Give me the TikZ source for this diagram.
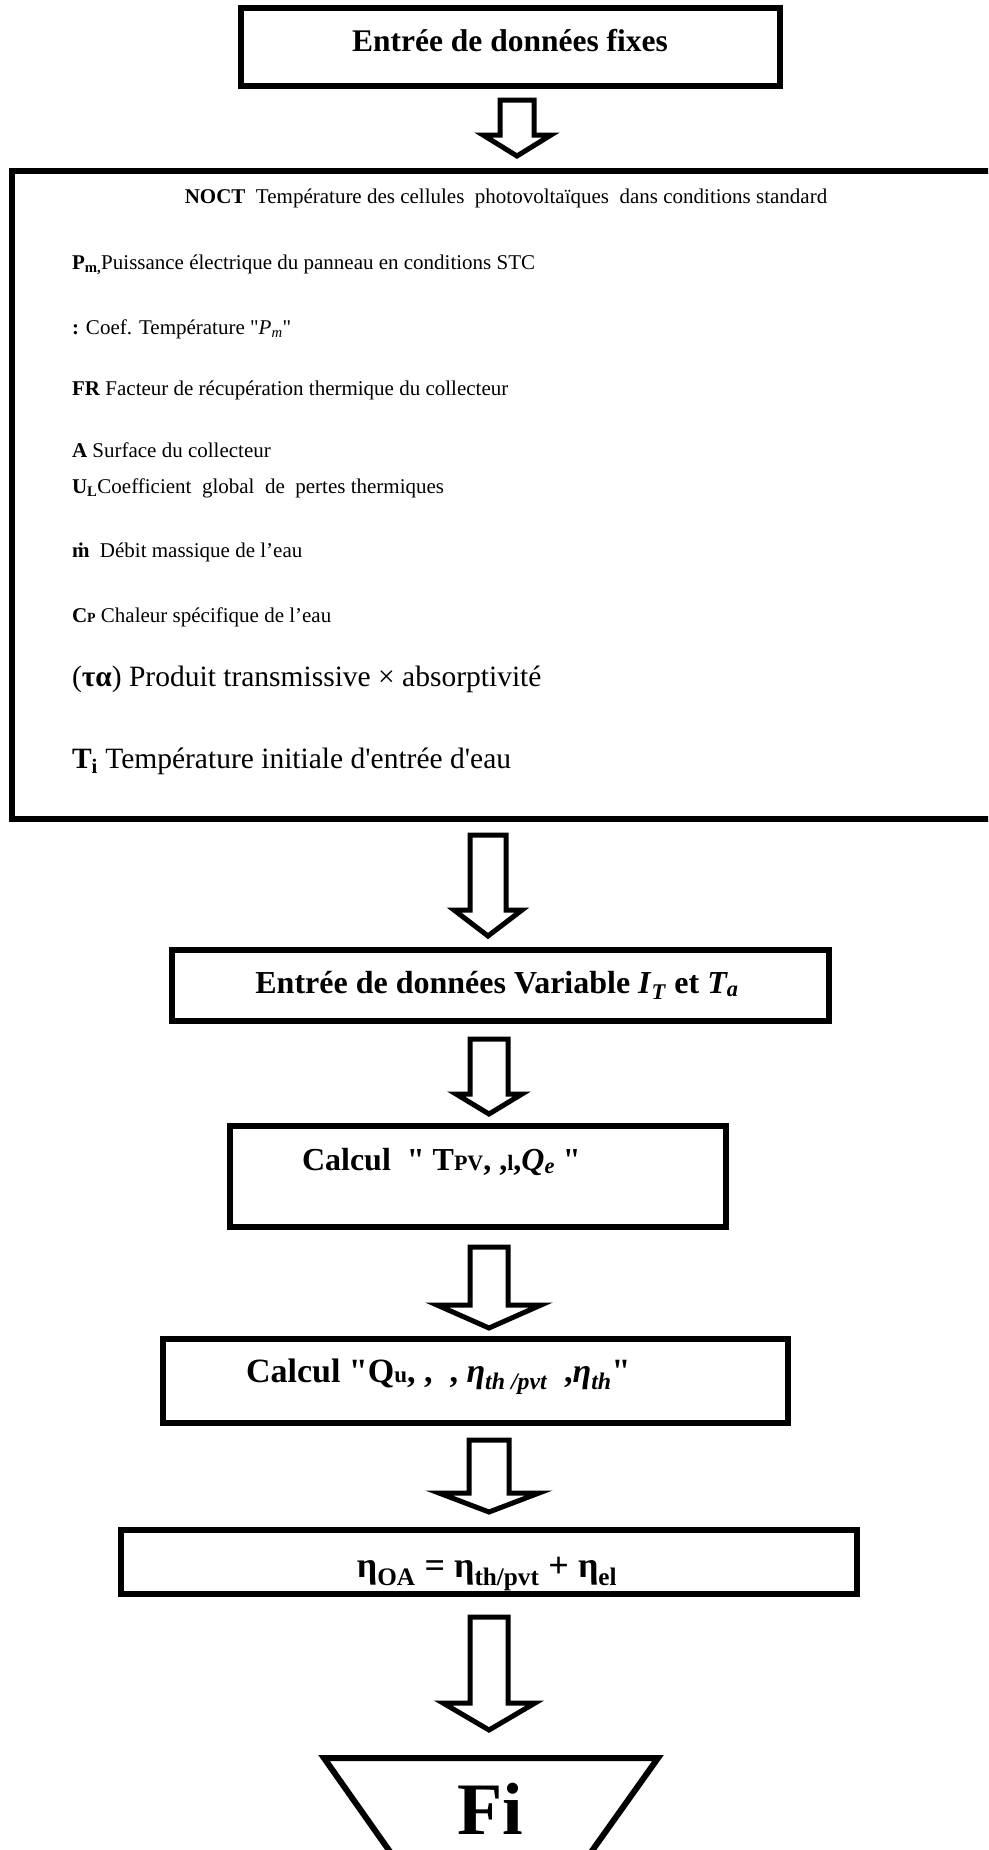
\documentclass[tikz,border=0pt]{standalone}
\usepackage{fontspec}
\setmainfont{Liberation Serif}
\newcommand{\fsz}[1]{\fontsize{#1}{#1}\selectfont}
\newcommand{\dq}{\textquotedbl}
\begin{document}
\begin{tikzpicture}[x=1pt,y=-1pt,
  boxA/.style={draw, line width=6pt, rectangle, inner sep=0pt},
  barrow/.style={draw, line width=5pt, fill=white, line join=miter},
  txt/.style={inner sep=0pt, outer sep=0pt},
  small/.style={txt, font=\fsz{21}},
  large/.style={txt, font=\fsz{29.5}},
  bold/.style={txt, font=\fsz{32}\bfseries}]
\useasboundingbox (0,0) rectangle (988,1850);
\clip (0,0) rectangle (988,1850);
% boxes
\node[boxA, minimum width=539pt, minimum height=78pt] (b1) at (510,47) {};
\node[boxA, minimum width=988pt, minimum height=648pt] (b2) at (506,495) {};
\node[boxA, minimum width=657pt, minimum height=71pt] (b3) at (500.5,985.5) {};
\node[boxA, minimum width=496pt, minimum height=101pt] (b4) at (478,1176.5) {};
\node[boxA, minimum width=625pt, minimum height=84pt] (b5) at (475.5,1381) {};
\node[boxA, minimum width=736pt, minimum height=64pt] (b6) at (489,1562) {};
% end trapezoid
\coordinate (tl) at (324,1758);
\coordinate (tr) at (658,1758);
\draw[line width=6pt, line join=miter] (424,1900) -- (tl) -- (tr) -- (557,1900);
% block arrows: \barr{cx}{top}{heady}{tip}{shaft half}{head half}{name}
\newcommand{\barr}[7]{%
  \draw[barrow] (#1-#5,#2) -- (#1+#5,#2) -- (#1+#5,#3) -- (#1+#6,#3) -- (#1,#4) coordinate (#7)
     -- (#1-#6,#3) -- (#1-#5,#3) -- cycle;}
\barr{517}{100}{135}{156}{17}{34}{a1}
\barr{488}{835}{910}{936}{18}{34}{a2}
\barr{489}{1039}{1094}{1114}{19}{33}{a3}
\barr{489}{1247}{1305}{1328}{19}{52}{a4}
\barr{489}{1440}{1493}{1512}{20}{50}{a5}
\barr{489}{1617}{1703}{1730}{19}{46}{a6}
% texts
\node[txt, anchor=base, font=\fsz{31.5}\bfseries] (t1) at (510,51) {Entrée de données fixes};
\node[small, anchor=base] (l1) at (506,203) {\textbf{NOCT}~~Température des cellules~~photovoltaïques~~dans conditions standard};
\node[small, anchor=base west] (l2) at (72,269) {\textbf{P\textsubscript{m,}}Puissance électrique du panneau en conditions STC};
\node[small, anchor=base west] (l3) at (72,334) {\textbf{:} Coef. Température \dq\textit{P}\textsubscript{\textit{m}}\dq};
\node[small, anchor=base west] (l4) at (72,395) {\textbf{FR} Facteur de récupération thermique du collecteur};
\node[small, anchor=base west] (l5) at (72,457) {\textbf{A} Surface du collecteur};
\node[small, anchor=base west] (l6) at (72,493) {\textbf{U\textsubscript{L}}Coefficient~~global~~de~~pertes thermiques};
\node[small, anchor=base west] (l7) at (72,557) {\textbf{\.m}~~Débit massique de l’eau};
\node[small, anchor=base west] (l8) at (72,622) {\textbf{C{\fsz{14}P}} Chaleur spécifique de l’eau};
\node[large, anchor=base west] (l9) at (72,686) {(\textbf{τα}) Produit transmissive × absorptivité};
\node[large, anchor=base west] (l10) at (72,768) {\textbf{T\textsubscript{i}} Température initiale d\textquotesingle entrée d\textquotesingle eau};
\node[bold, anchor=base] (t3) at (497,993) {Entrée de données Variable \textit{I}\textsubscript{\textit{T}} et \textit{T\textsubscript{a}}};
\node[bold, anchor=base west] (t4) at (302,1170) {Calcul~~\dq{} T{\fsz{22}PV}, ,{\fsz{22}l},\textit{Q\textsubscript{e}} \dq};
\node[txt, font=\fsz{34}\bfseries, anchor=base west] (t5) at (246,1382) {Calcul \dq Q{\fsz{23}u}, ,~~, \textit{η\textsubscript{th /pvt}}~~,\textit{η\textsubscript{th}}\dq};
\node[txt, font=\fsz{36}\bfseries, anchor=base] (t6) at (487,1577) {η\textsubscript{OA} = η\textsubscript{th/pvt} + η\textsubscript{el}};
\node[txt, anchor=base, font=\fsz{74}\bfseries] (fi) at (490,1834) {Fi};
\end{tikzpicture}
\end{document}
